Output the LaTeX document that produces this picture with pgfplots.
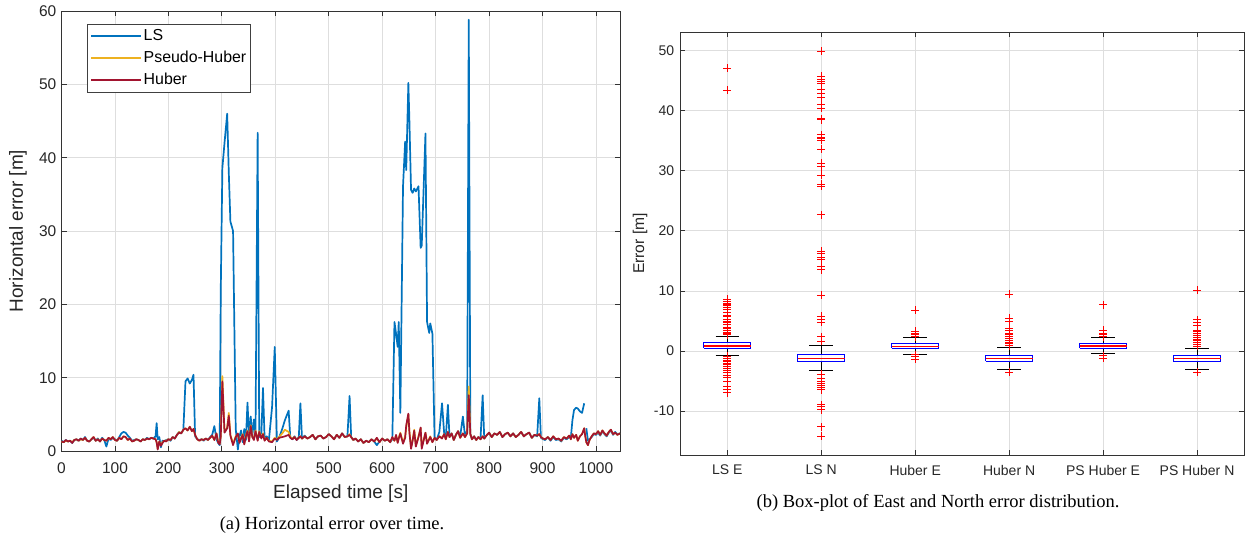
\documentclass[border=0pt]{standalone}
\usepackage{fontspec}
\setmainfont{Liberation Sans}
\newfontfamily\capfont{Liberation Serif}
\usepackage{pgfplots}
\usepackage{pgfplotstable}
\pgfplotsset{compat=1.18}
\definecolor{cLS}{rgb}{0,0.447,0.741}
\definecolor{cPH}{rgb}{0.929,0.694,0.125}
\definecolor{cHU}{rgb}{0.635,0.078,0.184}
\definecolor{txt}{rgb}{0.15,0.15,0.15}
\definecolor{gridc}{rgb}{0.87,0.87,0.87}

\pgfplotstableread{
t ls ph hu
0 1.4 1.3 1.3
4 1.2 1.2 1.2
8 1.5 1.4 1.5
12 1.3 1.3 1.3
16 1.4 1.4 1.4
20 1.1 1.2 1.1
24 1.5 1.5 1.5
28 1.6 1.6 1.6
32 1.4 1.4 1.4
36 1.7 1.6 1.7
40 1.5 1.5 1.5
44 1.9 1.8 1.8
48 1.4 1.4 1.4
52 1.3 1.3 1.3
56 1.6 1.6 1.6
60 1.8 1.9 1.9
64 1.4 1.4 1.4
68 1.7 1.6 1.6
72 1.3 1.3 1.3
76 1.8 1.7 1.7
80 1.5 1.5 1.5
84 0.6 1.4 1.4
88 1.7 1.8 1.8
92 1.5 1.6 1.6
96 1.8 1.9 1.9
100 1.6 1.5 1.5
104 1.4 1.4 1.4
108 1.9 1.8 1.8
112 2.4 1.6 1.6
116 2.6 2.0 2.0
120 2.5 1.9 1.9
124 2.1 1.5 1.5
128 1.8 1.7 1.7
132 1.4 1.3 1.3
136 1.5 1.4 1.4
140 1.6 1.6 1.6
144 1.5 1.5 1.5
148 1.3 1.3 1.3
152 1.6 1.6 1.6
156 1.5 1.5 1.5
160 1.8 1.7 1.7
164 1.6 1.6 1.6
168 1.8 1.8 1.8
172 1.7 1.7 1.7
176 2.0 1.6 1.6
178 3.8 1.2 1.2
180 1.6 0.3 0.2
183 1.9 1.3 1.3
186 0.5 0.8 0.7
189 1.4 1.2 1.1
192 1.3 1.4 1.4
196 1.5 1.4 1.3
200 1.6 1.6 1.6
204 1.4 1.5 1.5
208 1.9 1.9 1.9
212 1.7 1.7 1.7
216 2.2 2.2 2.2
220 2.6 2.6 2.5
224 2.4 2.4 2.4
228 2.9 2.9 2.9
232 9.5 3.1 3.1
236 9.9 2.8 2.8
240 9.2 3.3 3.3
244 9.7 2.7 2.7
247 10.4 3.0 3.0
250 2.0 2.2 2.2
254 1.6 1.6 1.6
258 1.5 1.4 1.4
262 1.6 1.6 1.6
266 1.4 1.5 1.5
270 1.7 1.7 1.7
274 1.5 1.5 1.5
278 1.9 1.8 1.8
282 2.2 2.1 2.1
286 3.4 1.5 1.5
290 1.6 2.4 2.4
293 1.1 1.2 1.2
296 0.8 1.0 0.9
298 22.0 2.0 2.0
301 38.6 10.2 9.5
305 42.0 2.6 2.5
310 46.0 3.2 3.1
313 38.0 5.2 4.8
316 31.3 2.2 2.1
321 30.0 1.0 0.8
326 3.0 2.0 1.9
330 0.2 2.3 2.4
333 2.0 1.2 1.1
336 2.8 1.8 1.7
339 1.2 2.3 2.2
342 3.0 1.0 0.9
345 1.5 2.1 2.0
348 6.6 2.8 2.7
351 1.8 1.4 1.3
354 4.7 3.5 3.4
357 2.0 2.0 1.9
360 4.3 1.6 1.5
363 2.2 2.8 2.7
367 43.4 1.5 1.4
370 1.9 2.7 2.6
374 2.5 1.8 1.7
377 8.6 2.4 2.3
380 1.7 1.5 1.4
384 2.0 1.8 1.8
388 1.4 1.4 1.3
394 6.0 1.3 1.2
399 14.2 1.8 1.7
403 1.3 1.6 1.5
407 1.8 1.9 1.8
413 3.0 2.4 1.9
418 4.2 2.9 2.0
425 5.5 2.6 2.2
428 1.9 1.9 1.8
432 1.6 1.7 1.6
436 2.0 1.9 1.9
440 1.5 1.6 1.5
444 1.9 1.8 1.8
447 6.5 2.0 2.0
450 1.7 1.7 1.7
455 2.1 2.0 2.0
460 1.7 1.7 1.7
465 1.9 1.9 1.9
470 2.2 2.2 2.2
475 1.6 1.6 1.6
480 2.0 2.0 2.0
485 2.1 2.1 2.1
490 1.7 1.7 1.7
495 1.9 1.9 1.9
500 2.3 2.3 2.3
505 2.0 2.0 2.0
510 1.6 1.6 1.6
515 2.2 2.2 2.2
520 1.8 1.8 1.8
525 2.4 2.4 2.4
530 1.9 1.9 1.9
535 2.0 2.0 2.0
539 7.5 2.3 2.2
542 1.9 1.9 1.9
546 1.5 1.5 1.5
550 1.7 1.7 1.7
555 1.3 1.3 1.3
560 1.6 1.6 1.6
565 1.1 1.1 1.1
570 1.4 1.4 1.4
575 1.2 1.2 1.2
580 1.6 1.6 1.6
585 1.3 1.3 1.3
590 0.8 1.7 1.8
595 1.3 1.2 1.2
600 1.7 1.7 1.7
605 1.4 1.4 1.4
610 1.6 1.6 1.6
615 1.2 1.2 1.2
619 1.6 1.8 1.9
623 17.6 1.4 1.4
626 16.0 2.1 2.2
629 14.2 1.2 1.1
631 17.6 1.8 1.7
634 5.2 2.5 2.4
639 36.1 1.1 1.0
643 42.2 2.0 1.8
645 38.3 3.2 3.5
649 50.2 5.0 5.1
651 44.9 2.6 2.5
654 35.6 0.5 0.3
657 35.2 1.5 1.4
660 35.8 2.9 2.8
663 35.4 0.7 0.6
668 36.1 2.0 1.9
672 27.7 3.1 3.2
674 28.0 0.5 0.3
681 43.3 2.5 2.5
684 17.6 1.0 1.0
688 16.1 1.7 1.6
690 17.4 2.0 1.9
694 16.0 1.2 1.2
698 1.9 1.8 1.8
702 1.5 1.5 1.5
707 2.6 2.0 2.0
712 6.5 1.8 1.7
716 2.4 2.3 2.3
719 1.8 1.6 1.6
723 6.3 2.6 2.6
726 1.9 1.9 1.9
730 2.4 2.4 2.4
734 1.5 1.5 1.5
738 2.2 2.2 2.2
742 2.7 2.7 2.7
746 2.0 1.8 1.8
751 4.7 2.4 2.4
755 2.0 1.9 1.9
759 2.8 2.4 2.4
762 58.8 8.8 7.6
765 2.3 2.3 2.3
768 1.6 1.6 1.6
772 2.0 2.0 2.0
776 1.5 1.5 1.5
780 1.9 1.9 1.9
784 1.6 1.6 1.6
788 7.6 2.0 2.0
791 1.7 1.7 1.7
795 2.1 2.1 2.1
800 2.5 2.5 2.5
805 1.9 1.9 1.9
810 2.4 2.4 2.4
815 2.2 2.2 2.2
820 2.6 2.6 2.6
825 1.9 1.9 1.9
830 2.3 2.3 2.3
835 2.5 2.5 2.5
840 2.0 2.0 2.0
845 2.4 2.4 2.4
850 1.9 1.9 1.9
855 2.2 2.2 2.2
860 2.6 2.6 2.6
865 2.0 2.0 2.0
870 2.3 2.3 2.3
875 2.5 2.5 2.5
880 1.8 1.8 1.8
885 2.2 2.2 2.2
890 2.0 2.1 2.1
894 7.2 2.3 2.3
897 1.8 1.9 1.9
901 1.6 1.7 1.7
905 1.5 1.6 1.6
910 1.9 1.9 1.9
915 1.4 1.5 1.5
920 1.9 2.0 2.0
925 1.5 1.6 1.6
930 1.6 1.7 1.7
935 1.3 1.4 1.4
940 1.8 1.9 1.9
945 1.6 1.7 1.7
950 1.9 2.1 2.1
953 1.8 1.6 1.6
956 4.2 2.3 2.3
959 5.6 1.8 1.8
963 5.9 2.2 2.2
966 5.8 1.4 1.4
970 5.4 2.0 2.0
974 5.2 2.3 2.3
978 6.5 3.1 3.1
980 nan 2.1 2.0
982 3.1 1.2 1.2
985 1.4 0.8 0.8
988 1.6 1.5 1.5
992 1.9 2.0 2.0
996 2.3 2.4 2.4
1000 2.2 2.3 2.3
1004 2.5 2.7 2.7
1008 2.1 2.2 2.2
1012 2.7 2.8 2.8
1016 2.3 2.4 2.4
1020 2.0 2.1 2.1
1024 2.5 2.6 2.6
1028 2.8 2.9 2.9
1032 2.2 2.3 2.3
1036 2.6 2.5 2.5
1040 2.3 2.2 2.2
1045 2.4 2.4 2.4
}\herr

\begin{document}
\begin{tikzpicture}
\useasboundingbox (0,0) rectangle (1247pt,546pt);
\begin{axis}[
  at={(61.5pt,95pt)}, anchor=south west,
  scale only axis, width=558.5pt, height=440pt,
  xmin=0, xmax=1045, ymin=0, ymax=60,
  xtick={0,100,...,1000}, ytick={0,10,...,60},
  grid=major, major grid style={gridc, line width=0.8pt},
  axis line style={black!80, line width=0.9pt},
  tick style={black!80, line width=0.8pt},
  major tick length=5pt, tick align=inside,
  /pgf/number format/assume math mode=true,
  /pgf/number format/1000 sep={},
  ticklabel style={font=\fontsize{15.5}{18}\selectfont, text=txt},
  xticklabel style={anchor=center, yshift=-17pt, inner sep=0pt},
  yticklabel style={anchor=east, xshift=-5pt, inner sep=0pt},
  label style={font=\fontsize{19}{22}\selectfont, text=txt},
  xlabel={Elapsed time [s]},
  ylabel={Horizontal error [m]},
  xlabel style={at={(axis description cs:0.5,-0.0977)}, anchor=center},
  ylabel style={at={(axis description cs:-0.0779,0.5)}, anchor=center},
  unbounded coords=jump,
  legend image code/.code={\draw[#1, line width=1.8pt] (0pt,0pt) -- (50pt,0pt);},
  legend cell align=left,
  legend style={at={(axis description cs:0.0457,0.970)}, anchor=north west,
    draw=black!75, line width=0.8pt, fill=white,
    font=\fontsize{15.9}{18}\selectfont, text=black,
    inner xsep=3pt, inner ysep=3pt, row sep=4.5pt,
    nodes={inner sep=1.5pt, text height=11pt, text depth=3.5pt}},
]
\addplot[cLS, line width=1.7pt, line join=round] table[x=t,y=ls]{\herr};
\addplot[cPH, line width=1.7pt, line join=round] table[x=t,y=ph]{\herr};
\addplot[cHU, line width=1.7pt, line join=round] table[x=t,y=hu]{\herr};
\legend{LS,Pseudo-Huber,Huber}
\end{axis}

\begin{axis}[
  at={(680.3pt,91pt)}, anchor=south west,
  scale only axis, width=563.7pt, height=423pt,
  xmin=0.5, xmax=6.5, ymin=-17.3, ymax=53.1,
  xtick={1,2,3,4,5,6},
  xticklabels={LS E,LS N,Huber E,Huber N,PS Huber E,PS Huber N},
  ytick={-10,0,10,20,30,40,50},
  grid=major, major grid style={gridc, line width=0.8pt},
  axis line style={black!80, line width=0.9pt},
  tick style={black!80, line width=0.8pt},
  major tick length=5pt, tick align=inside,
  /pgf/number format/assume math mode=true,
  ticklabel style={font=\fontsize{14}{17}\selectfont, text=txt},
  xticklabel style={anchor=center, yshift=-15pt, inner sep=0pt},
  yticklabel style={anchor=east, xshift=-6pt, inner sep=0pt},
  ylabel={Error [m]},
  ylabel style={font=\fontsize{15.6}{18}\selectfont, text=txt,
    at={(axis description cs:-0.0715,0.5)}, anchor=center},
  unbounded coords=jump,
]
% whiskers
\addplot[black, line width=0.8pt] coordinates {
 (1,1.38) (1,2.49) (1,nan) (1,0.5) (1,-0.67) (1,nan)
 (2,-0.61) (2,1.0) (2,nan) (2,-1.77) (2,-3.27) (2,nan)
 (3,1.22) (3,2.2) (3,nan) (3,0.5) (3,-0.5) (3,nan)
 (4,-0.72) (4,0.67) (4,nan) (4,-1.72) (4,-3.1) (4,nan)
 (5,1.22) (5,2.2) (5,nan) (5,0.44) (5,-0.44) (5,nan)
 (6,-0.78) (6,0.5) (6,nan) (6,-1.77) (6,-3.1)
};
% whisker caps
\addplot[black, line width=1pt] coordinates {
 (0.875,2.49) (1.125,2.49) (1,nan) (0.875,-0.67) (1.125,-0.67) (1,nan)
 (1.875,1.0) (2.125,1.0) (2,nan) (1.875,-3.27) (2.125,-3.27) (2,nan)
 (2.875,2.2) (3.125,2.2) (3,nan) (2.875,-0.5) (3.125,-0.5) (3,nan)
 (3.875,0.67) (4.125,0.67) (4,nan) (3.875,-3.1) (4.125,-3.1) (4,nan)
 (4.875,2.2) (5.125,2.2) (5,nan) (4.875,-0.44) (5.125,-0.44) (5,nan)
 (5.875,0.5) (6.125,0.5) (6,nan) (5.875,-3.1) (6.125,-3.1)
};
% boxes
\addplot[blue, line width=1pt] coordinates {
 (0.75,0.5) (1.25,0.5) (1.25,1.38) (0.75,1.38) (0.75,0.5) (1,nan)
 (1.75,-1.77) (2.25,-1.77) (2.25,-0.61) (1.75,-0.61) (1.75,-1.77) (2,nan)
 (2.75,0.5) (3.25,0.5) (3.25,1.22) (2.75,1.22) (2.75,0.5) (3,nan)
 (3.75,-1.72) (4.25,-1.72) (4.25,-0.72) (3.75,-0.72) (3.75,-1.72) (4,nan)
 (4.75,0.44) (5.25,0.44) (5.25,1.22) (4.75,1.22) (4.75,0.44) (5,nan)
 (5.75,-1.77) (6.25,-1.77) (6.25,-0.78) (5.75,-0.78) (5.75,-1.77)
};
% medians
\addplot[red, line width=1.2pt] coordinates {
 (0.75,0.83) (1.25,0.83) (1,nan)
 (1.75,-1.22) (2.25,-1.22) (2,nan)
 (2.75,0.78) (3.25,0.78) (3,nan)
 (3.75,-1.27) (4.25,-1.27) (4,nan)
 (4.75,0.83) (5.25,0.83) (5,nan)
 (5.75,-1.27) (6.25,-1.27)
};
% outliers
\addplot[only marks, mark=+, mark size=4pt, mark options={draw=red, line width=0.9pt}] coordinates {
 (1,47.06) (1,43.4) (1,8.6) (1,8.3) (1,8.0) (1,7.8) (1,7.6) (1,7.3) (1,7.0) (1,6.5) (1,6.0) (1,5.7) (1,5.3) (1,5.0) (1,4.7) (1,4.4) (1,4.0) (1,3.7) (1,3.4) (1,3.1) (1,2.9) (1,2.7)
 (1,-0.9) (1,-1.2) (1,-1.5) (1,-1.8) (1,-2.0) (1,-2.3) (1,-2.6) (1,-2.9) (1,-3.2) (1,-3.6) (1,-4.0) (1,-4.4) (1,-5.0) (1,-5.9) (1,-6.4) (1,-6.9)
 (2,49.9) (2,45.7) (2,45.2) (2,44.8) (2,44.6) (2,43.5) (2,42.9) (2,42.2) (2,41.0) (2,40.4) (2,38.7) (2,38.5) (2,36.0) (2,35.6) (2,35.3) (2,35.1) (2,33.6) (2,31.3) (2,30.7) (2,29.3) (2,27.8) (2,27.4) (2,22.7) (2,16.6) (2,16.3) (2,15.5) (2,15.2) (2,14.1) (2,13.5) (2,9.26) (2,5.8) (2,5.2) (2,4.8) (2,2.4) (2,1.6)
 (2,-3.9) (2,-4.5) (2,-5.0) (2,-5.4) (2,-5.8) (2,-6.1) (2,-6.4) (2,-8.9) (2,-9.3) (2,-9.8) (2,-12.6) (2,-14.2)
 (3,6.8) (3,3.3) (3,3.0) (3,2.7) (3,2.4) (3,-0.6) (3,-0.9) (3,-1.4)
 (4,9.48) (4,5.5) (4,4.9) (4,3.8) (4,3.4) (4,3.0) (4,2.7) (4,2.4) (4,2.1) (4,1.8) (4,1.5) (4,1.2) (4,0.9) (4,-3.5)
 (5,7.7) (5,3.5) (5,3.0) (5,2.7) (5,2.4) (5,-0.78) (5,-1.16)
 (6,10.1) (6,5.2) (6,4.7) (6,4.2) (6,3.5) (6,3.2) (6,2.9) (6,2.6) (6,2.3) (6,2.0) (6,1.7) (6,1.4) (6,1.1) (6,0.8) (6,-3.55)
};
\end{axis}

\node[font=\capfont\fontsize{18.5}{22}\selectfont, text=black] at (332pt,21pt) {(a) Horizontal error over time.};
\node[font=\capfont\fontsize{18.5}{22}\selectfont, text=black] at (938pt,43pt) {(b) Box-plot of East and North error distribution.};
\end{tikzpicture}
\end{document}
